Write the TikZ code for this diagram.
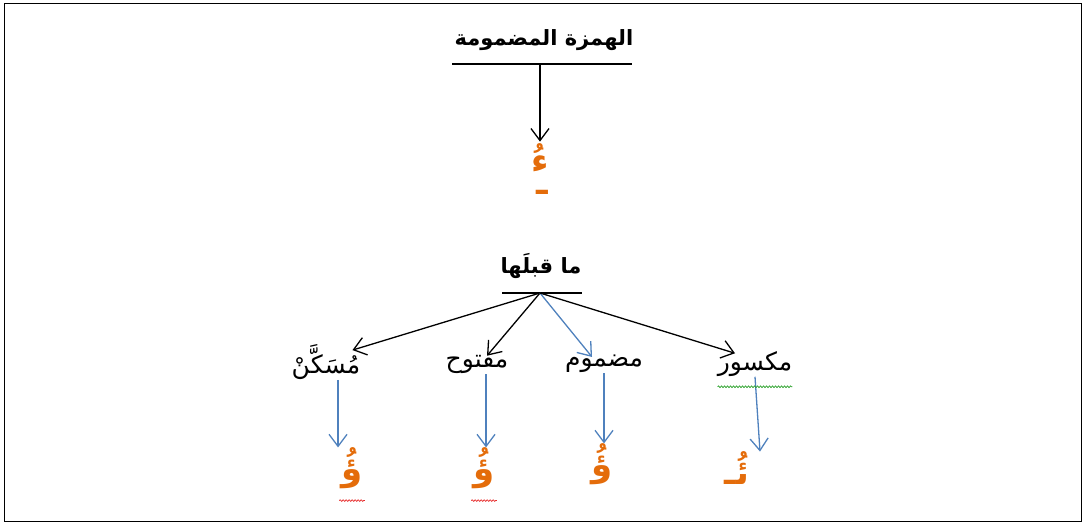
\documentclass[tikz,border=0pt]{standalone}
\usepackage{fontspec}
\newfontfamily\arabicfont[Script=Arabic]{DejaVu Sans}
\TeXXeTstate=1
\usetikzlibrary{arrows.meta, positioning, decorations.pathmorphing}
\definecolor{hamzaorange}{RGB}{228, 108, 10}
\definecolor{arrowblue}{RGB}{79, 129, 189}
\definecolor{checkred}{RGB}{230, 40, 40}
\definecolor{checkgreen}{RGB}{40, 160, 40}
\newcommand{\artext}[1]{\arabicfont\beginR #1\endR}
\tikzset{
    headbox/.style={
        font=\bfseries\fontsize{21}{25}\selectfont,
        inner sep=0pt
    },
    wordbox/.style={
        font=\fontsize{25}{30}\selectfont,
        inner sep=0pt
    },
    hamzabox/.style={
        text=hamzaorange,
        font=\bfseries\fontsize{34}{40}\selectfont,
        inner sep=0pt
    },
    underline/.style={
        draw,
        line width=1.3pt
    },
    arrow/.style={
        -{Straight Barb[length=12pt, width=18pt]},
        line width=1.3pt
    },
    bluearrow/.style={
        arrow,
        color=arrowblue
    },
    % spell check marks
    wavy/.style={
        decorate,
        decoration={snake, amplitude=0.8pt, segment length=3pt},
        line width=0.7pt
    }
}
\begin{document}
\begin{tikzpicture}[x=1pt, y=-1pt]
    \useasboundingbox (0,0) rectangle (1086,526);
    \draw[line width=1pt] (4,4) rectangle (1081,521);

    % top part
    \node[headbox] (title) at (544,40) {\artext{الهمزة المضمومة}};
    \coordinate (titleL) at (452,64);
    \coordinate (titleR) at (632,64);
    \coordinate (titleM) at (540,64);
    \draw[underline] (titleL) -- (titleR);
    \node[hamzabox] (hamza) at (540,158) {\artext{ءُ}};
    \node[hamzabox] (tatweel) at (542,192) {\artext{ـ}};
    \draw[arrow] (titleM) -- ([yshift=2pt]hamza.north);

    % what comes before it
    \node[headbox] (qabl) at (541,266) {\artext{ما قبلَها}};
    \coordinate (qablL) at (502,293);
    \coordinate (qablR) at (582,293);
    \coordinate (qablM) at (540,293);
    \draw[underline] (qablL) -- (qablR);

    \node[wordbox] (sakin) at (326,362) {\artext{مُسَكَّنْ}};
    \node[wordbox] (fath) at (477,364) {\artext{مفتوح}};
    \node[wordbox] (damm) at (604,364) {\artext{مضموم}};
    \node[wordbox] (kasr) at (755,364) {\artext{مكسور}};

    \draw[arrow] (qablM) -- ([xshift=-8pt, yshift=-6pt]sakin.north east);
    \draw[arrow] (qablM) -- ([xshift=10pt, yshift=-2pt]fath.north);
    \draw[bluearrow] (qablM) -- ([xshift=-12pt, yshift=-2pt]damm.north);
    \draw[arrow] (qablM) -- ([xshift=-20pt, yshift=-2pt]kasr.north);

    % results
    \node[hamzabox] (resA) at (352,468) {\artext{ؤُ}};
    \node[hamzabox] (resB) at (484,468) {\artext{ؤُ}};
    \node[hamzabox] (resC) at (602,464) {\artext{ؤُ}};
    \node[hamzabox] (resD) at (737,468) {\artext{ئُـ}};

    \draw[bluearrow] ([xshift=12pt]sakin.south) -- ([xshift=-14pt]resA.north);
    \draw[bluearrow] ([xshift=9pt]fath.south) -- ([xshift=2pt]resB.north);
    \draw[bluearrow] (damm.south) -- ([xshift=2pt]resC.north);
    \draw[bluearrow] (kasr.south) -- ([xshift=23pt]resD.north);

    \draw[wavy, checkred] ([xshift=-2pt, yshift=-12pt]resA.south west) -- ([xshift=2pt, yshift=-12pt]resA.south east);
    \draw[wavy, checkred] ([xshift=-2pt, yshift=-12pt]resB.south west) -- ([xshift=2pt, yshift=-12pt]resB.south east);
    \draw[wavy, checkgreen] ([yshift=-10pt]kasr.south west) -- ([yshift=-10pt]kasr.south east);
\end{tikzpicture}
\end{document}
